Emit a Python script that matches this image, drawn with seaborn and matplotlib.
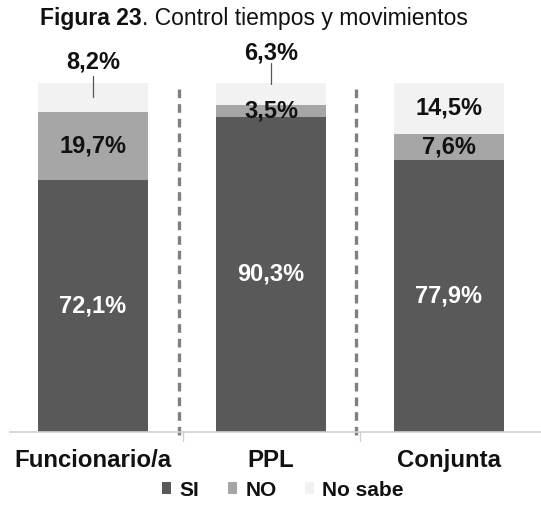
import matplotlib
matplotlib.use("Agg")
import matplotlib.pyplot as plt
import seaborn as sns
import pandas as pd
import numpy as np
from matplotlib.patches import Patch

sns.set_theme(style="white")
plt.rcParams['font.family'] = ['Liberation Sans', 'DejaVu Sans']

categories = ["Funcionario/a", "PPL", "Conjunta"]
si = [72.1, 90.3, 77.9]
no = [19.7, 3.5, 7.6]
ns = [8.2, 6.3, 14.5]
series_names = ["SI", "NO", "No sabe"]
colors = {"SI": "#595959", "NO": "#a6a6a6", "No sabe": "#f2f2f2"}

df = pd.DataFrame({"cat": categories, "SI": si, "NO": no, "No sabe": ns})
df["c1"] = df["SI"]
df["c2"] = df["SI"] + df["NO"]
df["c3"] = df["SI"] + df["NO"] + df["No sabe"]

fig = plt.figure(figsize=(5.41, 5.17), dpi=100)
ax = fig.add_axes([10/541, 1-432/517, 1-10/541, (432-83)/517])

bw = 0.62
for col, name in [("c3", "No sabe"), ("c2", "NO"), ("c1", "SI")]:
    sns.barplot(data=df, x="cat", y=col, color=colors[name], width=bw,
                saturation=1, ax=ax, linewidth=0, order=categories)

ax.set_ylim(0, 100)
ax.set_xlim(-0.466, 2.517)
ax.set_ylabel("")
ax.set_xlabel("")
ax.set_yticks([])
for s in ["top", "right", "left"]:
    ax.spines[s].set_visible(False)
ax.spines["bottom"].set_color("#d0d0d0")
ax.spines["bottom"].set_linewidth(1.2)
ax.tick_params(axis="x", length=0, pad=12.5)
for lab in ax.get_xticklabels():
    lab.set_fontsize(17.3)
    lab.set_fontweight("bold")
    lab.set_color("#111111")

# separators
for xs, xt in [(0.483, 0.506), (1.478, 1.5)]:
    ax.plot([xs, xs], [-1, 98.7], ls=(0, (2.6, 1.8)), color="#808080", lw=2.4, clip_on=False)
    ax.plot([xt, xt], [0, -2.5], color="#d0d0d0", lw=1, clip_on=False)

def fmt(v):
    return f"{v:.1f}%".replace(".", ",")

fs = 17
for i in range(3):
    ax.text(i, si[i] / 2, fmt(si[i]), ha="center", va="center", color="white",
            fontsize=fs, fontweight="bold")
    ax.text(i, si[i] + no[i] / 2, fmt(no[i]), ha="center", va="center", color="#111111",
            fontsize=fs, fontweight="bold")
    top = si[i] + no[i]
    if ns[i] >= 10:
        ax.text(i, top + ns[i] / 2, fmt(ns[i]), ha="center", va="center", color="#111111",
                fontsize=fs, fontweight="bold")

# outside labels with leader lines
ax.plot([0, 0], [si[0] + no[0] + ns[0] / 2, 102], color="#555555", lw=0.9, clip_on=False)
ax.text(0, 106.0, fmt(ns[0]), ha="center", va="center", color="#111111",
        fontsize=fs, fontweight="bold", clip_on=False)
ax.plot([1, 1], [99.7, 105.7], color="#555555", lw=0.9, clip_on=False)
ax.text(1, 108.6, fmt(ns[1]), ha="center", va="center", color="#111111",
        fontsize=fs, fontweight="bold", clip_on=False)

# title
t1 = fig.text(40/541, 1-18/517, "Figura 23", fontsize=16.5, fontweight="bold",
              ha="left", va="center", color="#111111")
fig.canvas.draw()
bb = t1.get_window_extent()
fig.text(bb.x1 / fig.bbox.width, 1-18/517, ". Control tiempos y movimientos", fontsize=16.5,
         ha="left", va="center", color="#111111")

handles = [Patch(facecolor=colors[n], edgecolor="none", label=n) for n in series_names]
leg = fig.legend(handles=handles, loc="center", bbox_to_anchor=(283/541, 1-490/517),
                 ncol=3, frameon=False, handlelength=0.45, handleheight=0.45,
                 columnspacing=1.35, handletextpad=0.4,
                 prop={"size": 15, "weight": "bold"})
for t in leg.get_texts():
    t.set_color("#111111")

fig.savefig("out.png", dpi=100)
